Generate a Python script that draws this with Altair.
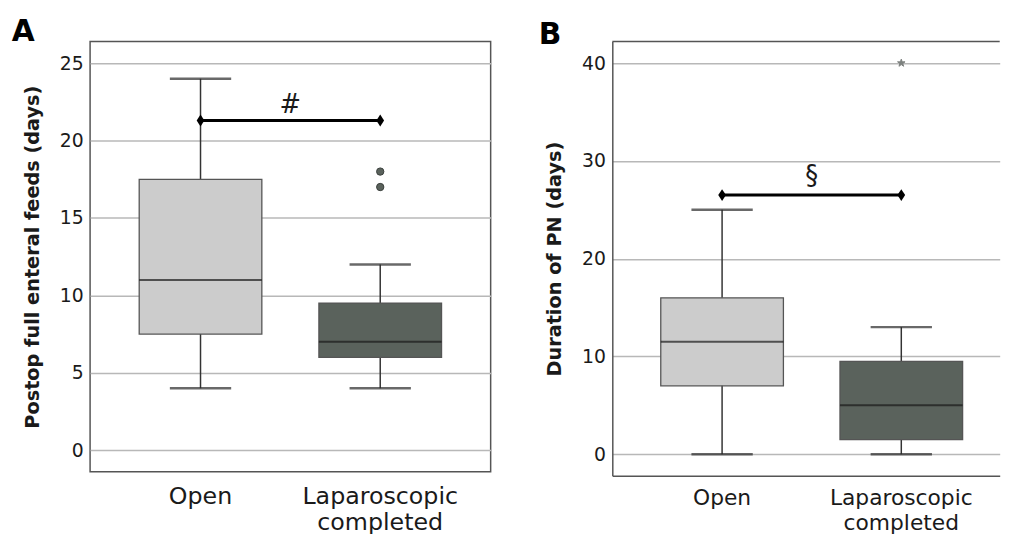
import altair as alt
import pandas as pd

# ---------------- data ----------------
groups = ["Open", "Laparoscopic completed"]
box_fills = ["#cccccc", "#5a625c"]

# Panel A: Postop full enteral feeds (days)
a_lower = [4, 4]
a_q1 = [7.5, 6]
a_median = [11, 7]
a_q3 = [17.5, 9.5]
a_upper = [24, 12]
a_out_groups = ["Laparoscopic completed", "Laparoscopic completed"]
a_out_values = [18, 17]
a_sig_value = 21.3
a_sig_mark = "#"
a_sig_mark_value = 22.3
a_ticks = [0, 5, 10, 15, 20, 25]
a_domain = [-1.4, 26.4]
a_title = "Postop full enteral feeds (days)"

# Panel B: Duration of PN (days)
b_lower = [0, 0]
b_q1 = [7, 1.5]
b_median = [11.5, 5]
b_q3 = [16, 9.5]
b_upper = [25, 13]
b_out_groups = ["Laparoscopic completed"]
b_out_values = [40]
b_sig_value = 26.5
b_sig_mark = "§"
b_sig_mark_value = 28.4
b_ticks = [0, 10, 20, 30, 40]
b_domain = [-2.2, 42.2]
b_title = "Duration of PN (days)"

# ---------------- style ----------------
FONT = "DejaVu Sans"
INK = "#1a1a1a"
FRAME = "#555555"
DIAMOND = "M0,-1L0.65,0L0,1L-0.65,0Z"
STAR = ("M0,-1L0.223,-0.307L0.951,-0.309L0.361,0.117L0.588,0.809L0,0.38"
        "L-0.588,0.809L-0.361,0.117L-0.951,-0.309L-0.223,-0.307Z")


def panel(letter, letter_dx, letter_dy, lower, q1, med, q3, upper,
          out_groups, out_values, out_shape, out_size, out_color, out_stroke,
          sig_value, sig_mark, sig_mark_value, ticks, domain, axis_title,
          width, height, pad_outer, align, label_size, label_padding,
          label_line_height, framed):
    box = pd.DataFrame({"group": groups, "lower": lower, "q1": q1,
                        "median": med, "q3": q3, "upper": upper})
    outl = pd.DataFrame({"group": out_groups, "value": out_values})
    sig = pd.DataFrame({"group": groups, "value": [sig_value] * len(groups)})
    sig_txt = pd.DataFrame({"group": [groups[0]], "value": [sig_mark_value],
                            "label": [sig_mark]})

    x_scale = alt.Scale(domain=groups, paddingInner=0, paddingOuter=pad_outer,
                        align=align)
    x_axis = alt.Axis(title=None, labelAngle=0,
                      labelExpr="split(datum.label, ' ')",
                      labelFontSize=label_size, labelLineHeight=label_line_height,
                      labelPadding=label_padding, labelColor=INK, labelFont=FONT,
                      ticks=False, tickSize=0, grid=False,
                      domain=not framed, domainColor=FRAME, domainWidth=1.5)
    y_scale = alt.Scale(domain=domain, nice=False, zero=False)
    y_axis = alt.Axis(values=ticks, title=axis_title, grid=True,
                      gridColor="#b8b8b8", gridWidth=1.5, ticks=False, tickSize=0,
                      domain=not framed, domainColor=FRAME, domainWidth=1.5,
                      labelFontSize=19, labelPadding=7, labelColor=INK,
                      labelFont=FONT, titleFont=FONT, titleFontSize=19.5,
                      titleFontWeight="bold", titleColor=INK, titleAngle=270,
                      titleBaseline="alphabetic", titleAlign="center",
                      titleX=-52, titleY=height / 2)

    X = alt.X("group:N", scale=x_scale, axis=x_axis)

    def Y(field):
        return alt.Y(f"{field}:Q", scale=y_scale, axis=y_axis)

    base = alt.Chart(box)
    whisk = base.mark_rule(color="#333333", strokeWidth=1.5).encode(
        x=X, y=Y("lower"), y2="upper:Q")
    boxes = base.mark_bar(size=124, stroke=FRAME, strokeWidth=1.3).encode(
        x=X, y=Y("q1"), y2="q3:Q",
        color=alt.Color("group:N", scale=alt.Scale(domain=groups, range=box_fills),
                        legend=None))
    medians = base.mark_tick(size=124, thickness=2, color=INK).encode(
        x=X, y=Y("median"))
    cap_lo = base.mark_tick(size=62, thickness=2.5, color="#2a2a2a").encode(
        x=X, y=Y("lower"))
    cap_hi = base.mark_tick(size=62, thickness=2.5, color="#2a2a2a").encode(
        x=X, y=Y("upper"))
    outliers = alt.Chart(outl).mark_point(
        shape=out_shape, filled=True, size=out_size, color=out_color,
        stroke=out_stroke, strokeWidth=1, opacity=1).encode(x=X, y=Y("value"))
    sig_line = alt.Chart(sig).mark_line(color="black", strokeWidth=3).encode(
        x=X, y=Y("value"))
    sig_pts = alt.Chart(sig).mark_point(
        shape=DIAMOND, filled=True, size=144, color="black", opacity=1).encode(
        x=X, y=Y("value"))
    sig_label = alt.Chart(sig_txt).mark_text(
        fontSize=26, font=FONT, color=INK, baseline="middle", align="center").encode(
        x=alt.X("group:N", bandPosition=1, scale=x_scale, axis=x_axis),
        y=Y("value"), text="label:N")

    layers = [whisk, boxes, medians, cap_lo, cap_hi, outliers, sig_line,
              sig_pts, sig_label]
    if framed:
        view = alt.ViewBackground(stroke=FRAME, strokeWidth=1.5)
    else:
        view = alt.ViewBackground(stroke="transparent")
        top = alt.Chart(pd.DataFrame({"edge": ["top"]})).mark_rule(
            color=FRAME, strokeWidth=1.5).encode(
            x=alt.value(0), x2=alt.value(width), y=alt.value(0))
        layers.append(top)

    return alt.layer(*layers).properties(
        width=width, height=height, view=view,
        title=alt.TitleParams(letter, anchor="start", frame="group", fontSize=30,
                              fontWeight="bold", font=FONT, color="black",
                              baseline="alphabetic", offset=0, dx=letter_dx,
                              dy=letter_dy))


chart_a = panel("A", -79.3, 29, a_lower, a_q1, a_median, a_q3, a_upper,
                a_out_groups, a_out_values, "circle", 55, "#5a625c", "#3a3f3c",
                a_sig_value, a_sig_mark, a_sig_mark_value, a_ticks, a_domain,
                a_title, 405, 435, 0.1145, 0.5, 24, 13, 26, True)

chart_b = panel("B", -74.3, 33.4, b_lower, b_q1, b_median, b_q3, b_upper,
                b_out_groups, b_out_values, STAR, 64, "#7d827f", "#7d827f",
                b_sig_value, b_sig_mark, b_sig_mark_value, b_ticks, b_domain,
                b_title, 391.7, 439, 0.0809, 0.696, 22, 12, 25, False)

chart = alt.hconcat(chart_a, chart_b, spacing=123, bounds="flush").properties(
    padding={"left": 2, "top": 5, "right": 0, "bottom": 0},
    background="white",
).configure(font=FONT)

chart.save("out.html", embed_options={"renderer": "svg", "actions": False})
